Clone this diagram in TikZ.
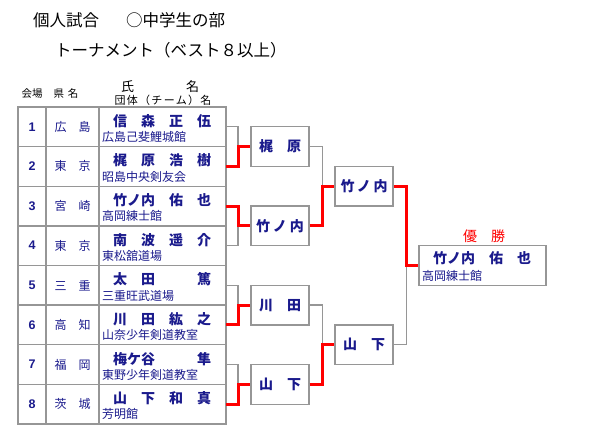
\documentclass[tikz,border=0pt]{standalone}
\usepackage{fontspec}
\setmainfont{Noto Sans CJK JP}
\newfontfamily\numfont{Liberation Sans}
\definecolor{navy}{RGB}{26,26,140}
\definecolor{gridgray}{RGB}{150,150,150}
\begin{document}
\begin{tikzpicture}[x=1pt,y=-1pt,
  tableline/.style={draw=gridgray,line width=1.3pt},
  lose/.style={draw=gridgray,line width=1.3pt},
  win/.style={draw=red,line width=3pt},
  cell/.style={text=navy,inner sep=0pt},
  matchbox/.style={draw=gridgray,line width=1.3pt,minimum width=58pt,minimum height=39.6pt,
    inner sep=0pt,text=navy,font=\fontsize{14}{14}\selectfont\bfseries}]
\useasboundingbox (0,0) rectangle (600,440);
% heading
\node[anchor=west,inner sep=0pt,font=\fontsize{16.5}{16.5}\selectfont] (title) at (33,20) {個人試合};
\node[anchor=west,inner sep=0pt,font=\fontsize{16.5}{16.5}\selectfont] (part) at (126,20) {○中学生の部};
\node[anchor=west,inner sep=0pt,font=\fontsize{16.5}{16.5}\selectfont] (sub) at (55,50) {トーナメント（ベスト８以上）};
% column heads
\node[inner sep=0pt,font=\fontsize{10.5}{10.5}\selectfont] (hplace) at (32,94) {会場};
\node[inner sep=0pt,font=\fontsize{10.5}{10.5}\selectfont] (hpref) at (66,94) {県\kern4pt名};
\node[anchor=west,inner sep=0pt,font=\fontsize{13}{13}\selectfont] (hname) at (121,87) {氏　　　　名};
\node[inner sep=0pt,font=\fontsize{11}{11}\selectfont\addfontfeature{LetterSpace=12}] (hteam) at (163,100) {団体（チーム）名};
% table
\draw[tableline] (18,107) rectangle (226,424);
\draw[tableline] (46,107) -- (46,424) (99,107) -- (99,424);
\foreach \k in {1,...,7}
  \draw[tableline] (18,{107+39.625*\k}) -- (226,{107+39.625*\k});
\foreach \i/\pref/\who/\team in {%
  1/広　島/信　森　正　伍/広島己斐鯉城館,
  2/東　京/梶　原　浩　樹/昭島中央剣友会,
  3/宮　崎/竹ノ内　佑　也/高岡練士館,
  4/東　京/南　波　遥　介/東松舘道場,
  5/三　重/太　田　　　篤/三重旺武道場,
  6/高　知/川　田　紘　之/山奈少年剣道教室,
  7/福　岡/梅ケ谷　　　隼/東野少年剣道教室,
  8/茨　城/山　下　和　真/芳明館}{
  \pgfmathsetmacro\rowtop{107+39.625*(\i-1)}
  \node[cell,font=\numfont\bfseries\fontsize{12.5}{12.5}\selectfont] (no\i) at (32,\rowtop+19.8) {\i};
  \node[cell,font=\fontsize{12}{12}\selectfont] (pref\i) at (72.5,\rowtop+19.8) {\pref};
  \node[cell,anchor=west,font=\fontsize{14}{14}\selectfont\bfseries] (name\i) at (113,\rowtop+14) {\who};
  \node[cell,anchor=west,font=\fontsize{12}{12}\selectfont] (team\i) at (102,\rowtop+30) {\team};
  \coordinate (r\i) at (226,\rowtop+19.8);
}
% bracket boxes
\node[matchbox] (q1) at (280,146.6) {梶　原};
\node[matchbox] (q2) at (280,225.9) {竹\kern3pt ノ\kern3pt 内};
\node[matchbox] (q3) at (280,305.1) {川　田};
\node[matchbox] (q4) at (280,384.4) {山　下};
\node[matchbox] (s1) at (364,186.25) {竹\kern2.5pt ノ\kern2.5pt 内};
\node[matchbox] (s2) at (364,344.75) {山　下};
\node[draw=gridgray,line width=1.3pt,minimum width=127pt,minimum height=39.6pt,inner sep=0pt] (champ) at (482.5,265.5) {};
% lines
\draw[lose] (r1) -- ++(12,0) |- (q1.west);
\draw[win] (r2) -- ++(12,0) |- (q1.west);
\draw[lose] (r4) -- ++(12,0) |- (q2.west);
\draw[win] (r3) -- ++(12,0) |- (q2.west);
\draw[lose] (r5) -- ++(12,0) |- (q3.west);
\draw[win] (r6) -- ++(12,0) |- (q3.west);
\draw[lose] (r7) -- ++(12,0) |- (q4.west);
\draw[win] (r8) -- ++(12,0) |- (q4.west);
\draw[lose] (q1.east) -- ++(13,0) |- (s1.west);
\draw[win] (q2.east) -- ++(13,0) |- (s1.west);
\draw[lose] (q3.east) -- ++(13,0) |- (s2.west);
\draw[win] (q4.east) -- ++(13,0) |- (s2.west);
\draw[lose] (s2.east) -- ++(13,0) |- (champ.west);
\draw[win] (s1.east) -- ++(13,0) |- (champ.west);
% champion
\node[text=red,inner sep=0pt,font=\fontsize{14}{14}\selectfont] (yusho) at (484,236) {優　勝};
\node[cell,anchor=west,font=\fontsize{14}{14}\selectfont\bfseries] (cname) at (433,258) {竹ノ内　佑　也};
\node[cell,anchor=west,font=\fontsize{12}{12}\selectfont] (cteam) at (422,276) {高岡練士館};
\end{tikzpicture}
\end{document}
